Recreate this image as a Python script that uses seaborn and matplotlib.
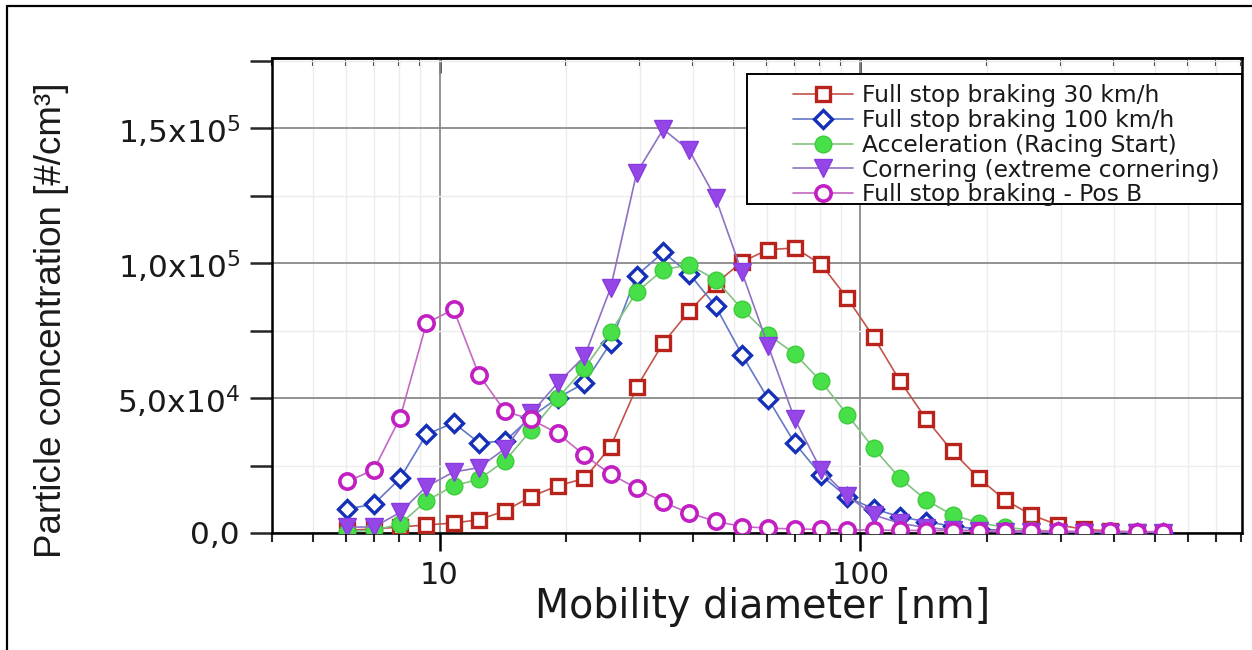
import numpy as np
import pandas as pd
import matplotlib
matplotlib.use("Agg")
import matplotlib.pyplot as plt
import seaborn as sns
from matplotlib import font_manager
from matplotlib.ticker import FixedLocator, LogLocator, NullFormatter, MultipleLocator
from matplotlib.patches import Rectangle
from matplotlib.lines import Line2D

# ---------------- data ----------------
diameter_nm = [6.04, 6.98, 8.06, 9.31, 10.8, 12.4, 14.3, 16.5, 19.1, 22.1, 25.5, 29.4,
               34.0, 39.2, 45.3, 52.3, 60.4, 69.8, 80.6, 93.1, 107.5, 124.1, 143.3,
               165.5, 191.1, 220.7, 254.8, 294.3, 339.8, 392.4, 453.2, 523.3]

braking_30 = [1000, 1500, 2200, 3000, 3700, 4900, 8200, 13500, 17500, 20200, 32000, 54000,
              70400, 82200, 92400, 100500, 105000, 105600, 99600, 87000, 72600, 56400, 42200,
              30200, 20300, 12200, 6700, 3000, 1400, 700, 300, 100]

braking_100 = [8900, 10700, 20200, 36500, 40800, 33500, 34000, 43000, 50000, 55600, 70400, 95400,
               104000, 96100, 84000, 66100, 49600, 33300, 21500, 13200, 9000, 6000, 4200,
               2500, 1500, 900, 500, 300, 200, 100, 50, 30]

acceleration = [500, 1000, 3300, 11900, 17500, 19900, 26700, 38100, 50000, 61100, 74500, 89200,
                97600, 99300, 93900, 83000, 73500, 66400, 56200, 43800, 31400, 20300, 12200,
                6700, 3800, 2100, 1100, 600, 300, 150, 80, 40]

cornering = [2200, 2200, 7600, 17200, 22600, 24200, 31200, 44300, 55600, 65400, 90800, 133400,
             149600, 141800, 124100, 96600, 69200, 42200, 23400, 13700, 6700, 3600, 2000,
             1200, 700, 400, 200, 100, 60, 40, 20, 10]

braking_pos_b = [19100, 23400, 42700, 77700, 82900, 58700, 45100, 42100, 36900, 28800, 21800, 16600,
                 11400, 7400, 4300, 2400, 1800, 1500, 1300, 1200, 1100, 1000, 900,
                 900, 800, 800, 700, 700, 600, 600, 500, 500]

series_labels = ["Full stop braking 30 km/h", "Full stop braking 100 km/h",
                 "Acceleration (Racing Start)", "Cornering (extreme cornering)",
                 "Full stop braking - Pos B"]

x_tick_values = [10, 100]
x_tick_labels = ["10", "100"]
y_tick_values = [0, 50000, 100000, 150000]
y_tick_labels = ["0,0", r"5,0x10$^4$", r"1,0x10$^5$", r"1,5x10$^5$"]

# long-form table built from the arrays above
series_values = [braking_30, braking_100, acceleration, cornering, braking_pos_b]
df = pd.concat([pd.DataFrame({"diameter": diameter_nm, "conc": vals, "series": lab})
                for lab, vals in zip(series_labels, series_values)], ignore_index=True)

# ---------------- styles ----------------
styles = {
    series_labels[0]: dict(marker="s", color="#c4534b", markeredgecolor="#b8231b",
                           markerfacecolor="white", markersize=10.5, markeredgewidth=2.4),
    series_labels[1]: dict(marker="D", color="#6478c6", markeredgecolor="#1530b8",
                           markerfacecolor="white", markersize=9.3, markeredgewidth=2.4),
    series_labels[2]: dict(marker="o", color="#82c282", markeredgecolor="#3ccc3c",
                           markerfacecolor="#48e048", markersize=12, markeredgewidth=1.0),
    series_labels[3]: dict(marker="v", color="#8e72c2", markeredgecolor="#8a3be0",
                           markerfacecolor="#9447e6", markersize=13.5, markeredgewidth=1.0),
    series_labels[4]: dict(marker="o", color="#c468c4", markeredgecolor="#c21fc2",
                           markerfacecolor="white", markersize=11, markeredgewidth=2.6),
}

sns.set_style("ticks")
plt.rcParams["font.family"] = ["DejaVu Sans"]
plt.rcParams["mathtext.default"] = "regular"

W, H = 1252, 650
fig = plt.figure(figsize=(W / 100, H / 100), dpi=100)
ax_l, ax_r, ax_t, ax_b = 272, 1241.7, 58, 533
ax = fig.add_axes([ax_l / W, 1 - ax_b / H, (ax_r - ax_l) / W, (ax_b - ax_t) / H])

for lab in series_labels:
    sub = df[df["series"] == lab]
    sns.lineplot(data=sub, x="diameter", y="conc", ax=ax, label=lab, errorbar=None,
                 sort=False, linewidth=1.2, zorder=3, **styles[lab])

# ---------------- axes ----------------
ax.set_xscale("log")
ax.set_xlim(4, 805)
ax.set_ylim(0, 176000)

ax.xaxis.set_major_locator(FixedLocator(x_tick_values))
ax.set_xticklabels(x_tick_labels)
ax.xaxis.set_minor_locator(LogLocator(base=10, subs=np.arange(2, 10)))
ax.xaxis.set_minor_formatter(NullFormatter())

ax.yaxis.set_major_locator(FixedLocator(y_tick_values))
ax.set_yticklabels(y_tick_labels)
ax.yaxis.set_minor_locator(MultipleLocator(25000))

ax.set_axisbelow(True)
ax.grid(which="major", axis="both", color="#8a8a8a", lw=1.3)
ax.grid(which="minor", axis="both", color="#ececec", lw=1.0)

ax.tick_params(axis="x", which="major", direction="out", length=13, width=1.8,
               labelsize=22, pad=7, top=False, bottom=True, colors="black")
ax.tick_params(axis="x", which="minor", direction="out", length=6.5, width=1.5,
               top=False, bottom=True)
ax.tick_params(axis="y", which="both", direction="out", length=16, width=1.8,
               labelsize=22.5, pad=7, left=True, right=False)
for lbl in ax.get_xticklabels() + ax.get_yticklabels():
    lbl.set_color("#1a1a1a")

for s in ax.spines.values():
    s.set_visible(True)
    s.set_linewidth(1.8)
    s.set_color("black")

# top ticks pointing inward
secax = ax.secondary_xaxis("top")
secax.xaxis.set_major_locator(FixedLocator(x_tick_values))
secax.xaxis.set_minor_locator(LogLocator(base=10, subs=np.arange(2, 10)))
secax.xaxis.set_major_formatter(NullFormatter())
secax.xaxis.set_minor_formatter(NullFormatter())
secax.tick_params(which="major", direction="in", length=11, width=1.8)
secax.tick_params(which="minor", direction="in", length=5.5, width=1.5)
secax.spines["top"].set_linewidth(1.8)

# ---------------- labels ----------------
ax.set_xlabel("Mobility diameter [nm]", fontsize=28.5, va="center", color="#1a1a1a")
ax.xaxis.set_label_coords((763 - ax_l) / (ax_r - ax_l), (ax_b - 607) / (ax_b - ax_t))

names = {f.name for f in font_manager.fontManager.ttflist}
if "Liberation Sans Narrow" in names:
    ylab_family, ylab_size = "Liberation Sans Narrow", 31
else:
    ylab_family, ylab_size = "Liberation Sans", 26.5
ax.set_ylabel("Particle concentration [#/cm³]", fontsize=ylab_size, family=ylab_family,
              va="center", ha="center", color="#1a1a1a")
ax.yaxis.set_label_coords((52 - ax_l) / (ax_r - ax_l), (ax_b - 320) / (ax_b - ax_t))

# ---------------- legend ----------------
handles, labels = ax.get_legend_handles_labels()
leg = ax.legend(handles, labels, loc="upper left",
                bbox_to_anchor=((793 - ax_l) / (ax_r - ax_l), (ax_b - 84) / (ax_b - ax_t)),
                frameon=False, fontsize=16.8, handlelength=2.57, handletextpad=0.39,
                labelspacing=0.08, borderpad=0, borderaxespad=0)
leg.set_zorder(6)
for t in leg.get_texts():
    t.set_color("#1a1a1a")

box_x0 = (747 - ax_l) / (ax_r - ax_l)
box_y0 = (ax_b - 204) / (ax_b - ax_t)
box_h = (204 - 74) / (ax_b - ax_t)
ax.add_patch(Rectangle((box_x0, box_y0), 1 - box_x0, box_h, transform=ax.transAxes,
                       facecolor="white", edgecolor="black", lw=1.4, zorder=5, clip_on=False))

# figure frame (left and top edges visible in the reference)
fig.add_artist(Line2D([7 / W, 7 / W], [0, 1 - 6 / H], color="black", lw=1.6,
                      transform=fig.transFigure))
fig.add_artist(Line2D([7 / W, 1], [1 - 6 / H, 1 - 6 / H], color="black", lw=1.6,
                      transform=fig.transFigure))

fig.savefig("out.png", dpi=100)
